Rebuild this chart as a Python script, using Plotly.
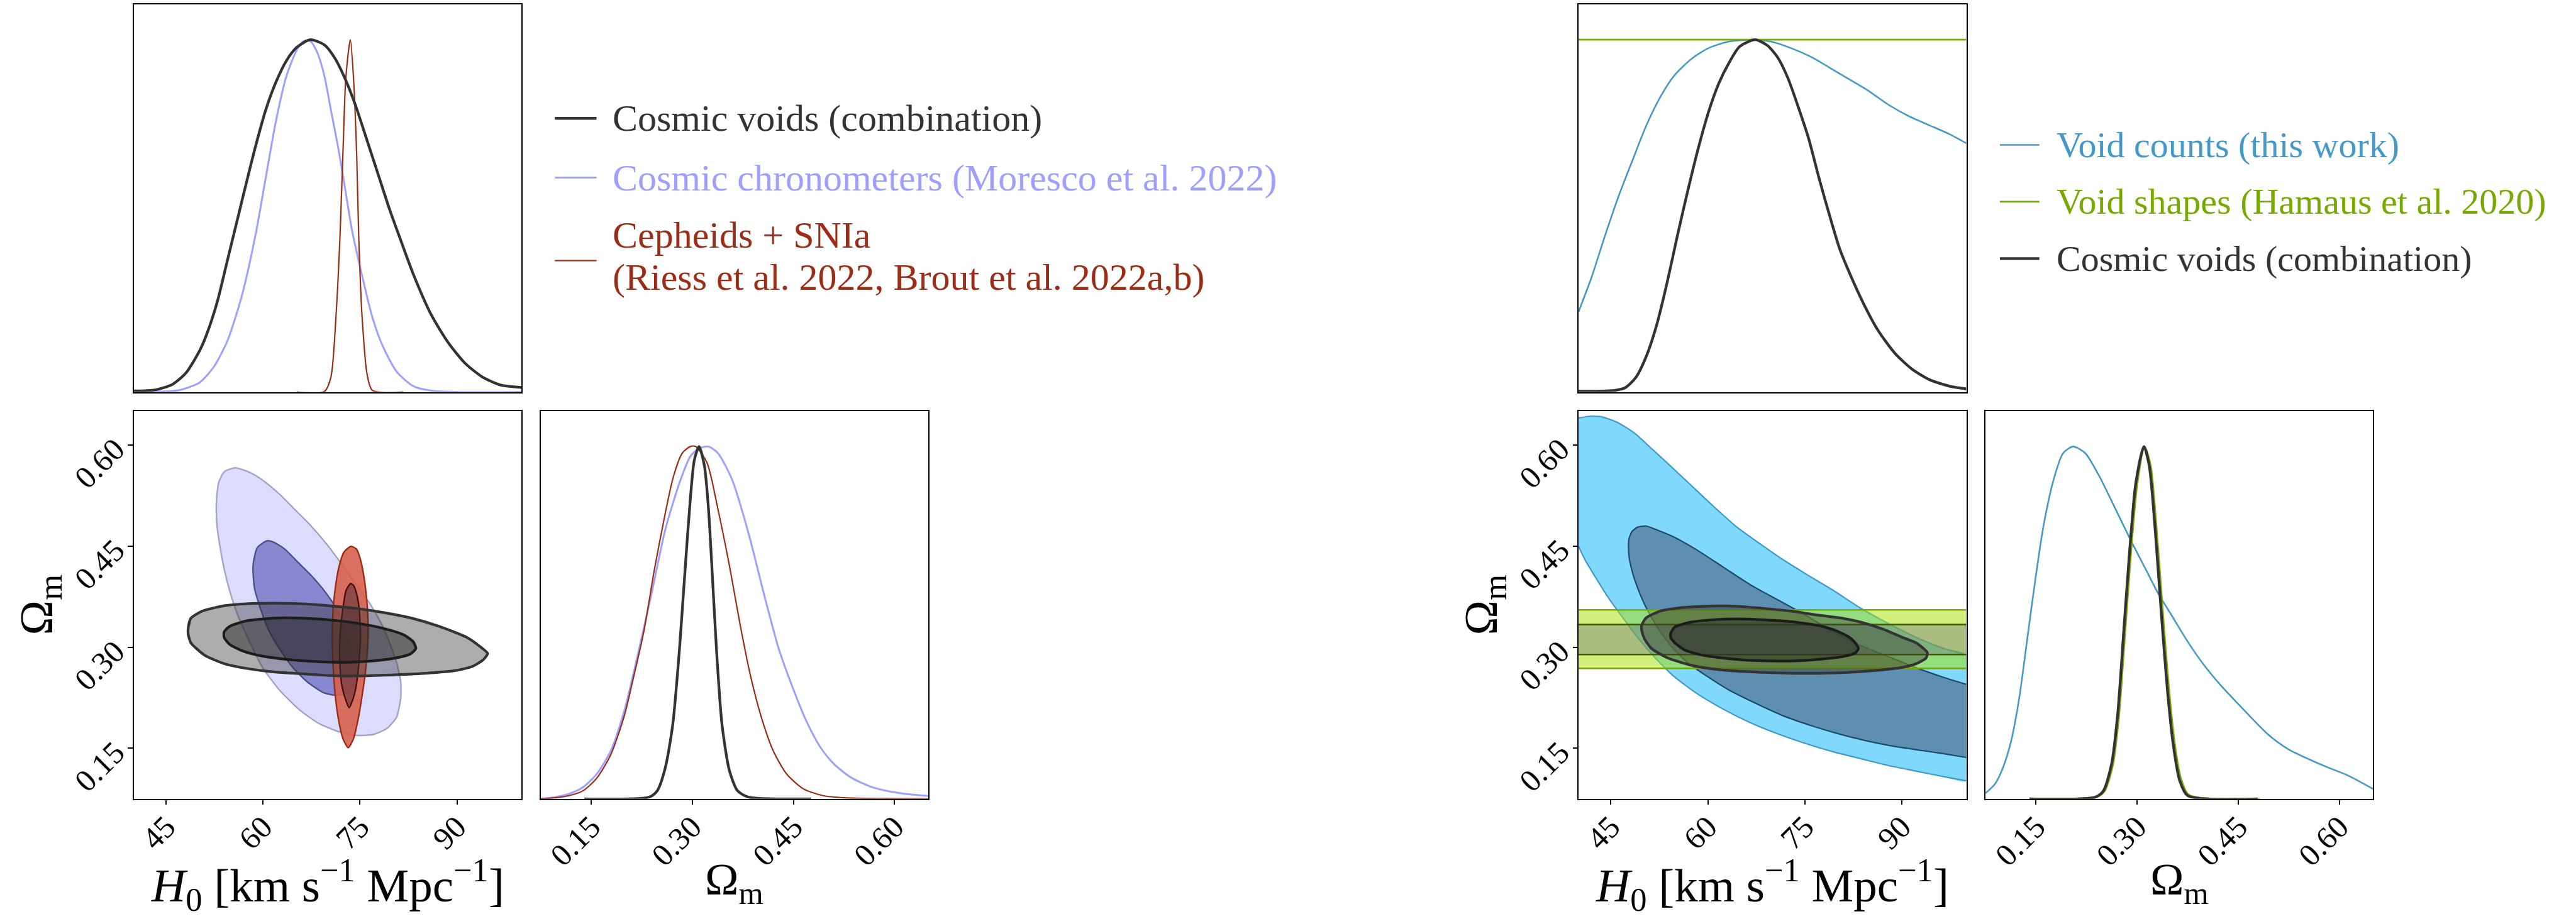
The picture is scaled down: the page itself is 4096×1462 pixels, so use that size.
import plotly.graph_objects as go

W, H = 4096, 1462
FONT = "Liberation Serif"

# ---------------- 1D marginals: left figure ----------------
h0_comb_L_x = [40, 43.3, 46.0, 48.1, 50.2, 51.3, 52.9, 54.5, 56.1, 57.7, 58.8, 60.4, 62.0, 63.6, 65.2, 67.3,
               69.5, 71.1, 72.7, 74.3, 75.9, 78.0, 79.6, 81.2, 83.3, 86.0, 88.7, 91.4, 94.0, 96.7, 100]
h0_comb_L_p = [0.003, 0.006, 0.022, 0.055, 0.118, 0.165, 0.255, 0.375, 0.495, 0.615, 0.695, 0.800, 0.880, 0.940,
               0.978, 1.0, 0.985, 0.948, 0.889, 0.814, 0.725, 0.607, 0.517, 0.436, 0.332, 0.220, 0.139, 0.079,
               0.042, 0.020, 0.013]
h0_cc_x = [40, 44, 47.0, 50.2, 52.4, 54.5, 56.7, 58.8, 60.4, 62.0, 63.6, 65.2, 66.3, 67.3, 68.4, 69.5, 70.5,
           71.6, 72.7, 73.7, 75.3, 76.9, 78.5, 80.7, 83.3, 86.0, 90, 100]
h0_cc_p = [0, 0.001, 0.005, 0.027, 0.072, 0.146, 0.272, 0.443, 0.607, 0.770, 0.896, 0.970, 0.996, 0.996, 0.963,
           0.896, 0.800, 0.696, 0.577, 0.465, 0.332, 0.213, 0.131, 0.057, 0.016, 0.004, 0.0, 0.0]
h0_ceph_x = [65.2, 69.5, 70.5, 71.3, 71.9, 72.4, 72.8, 73.5, 74.0, 74.5, 74.8, 75.3, 76.1, 76.9, 81.7]
h0_ceph_p = [0, 0.0015, 0.042, 0.22, 0.44, 0.70, 0.89, 1.0, 0.89, 0.666, 0.443, 0.22, 0.05, 0.005, 0]

om_comb_L_x = [0.1397, 0.236, 0.248, 0.260, 0.271, 0.281, 0.289, 0.297, 0.303, 0.310, 0.318, 0.324, 0.330,
               0.336, 0.344, 0.355, 0.367, 0.383, 0.476]
om_comb_L_p = [0, 0.005, 0.023, 0.089, 0.211, 0.427, 0.643, 0.850, 0.962, 1.0, 0.944, 0.822, 0.624, 0.418,
               0.211, 0.080, 0.023, 0.005, 0]
om_cc_x = [0.075, 0.097, 0.117, 0.138, 0.158, 0.179, 0.199, 0.219, 0.240, 0.260, 0.281, 0.297, 0.310, 0.324,
           0.338, 0.359, 0.383, 0.408, 0.428, 0.449, 0.469, 0.490, 0.510, 0.535, 0.567, 0.608, 0.650]
om_cc_p = [0, 0.005, 0.014, 0.033, 0.070, 0.136, 0.249, 0.408, 0.587, 0.765, 0.897, 0.972, 0.995, 1.0, 0.981,
           0.906, 0.756, 0.568, 0.427, 0.315, 0.221, 0.146, 0.099, 0.061, 0.033, 0.016, 0.008]
om_ceph_x = [0.075, 0.097, 0.117, 0.138, 0.158, 0.179, 0.199, 0.211, 0.228, 0.244, 0.260, 0.272, 0.285, 0.297,
             0.305, 0.322, 0.338, 0.355, 0.371, 0.387, 0.404, 0.420, 0.440, 0.465, 0.494, 0.526, 0.650]
om_ceph_p = [0, 0.003, 0.009, 0.023, 0.058, 0.125, 0.235, 0.330, 0.474, 0.653, 0.812, 0.915, 0.981, 1.0, 1.0,
             0.953, 0.822, 0.662, 0.493, 0.343, 0.221, 0.136, 0.070, 0.028, 0.009, 0.003, 0]

# ---------------- 1D marginals: right figure ----------------
h0_vc_x = [40, 42.0, 44.1, 46.2, 48.4, 50.5, 52.7, 54.8, 57.5, 60.1, 63.3, 67.1, 69.7, 72.9, 76.1, 79.9, 84.7,
           87.9, 91.1, 94.3, 97.5, 100]
h0_vc_p = [0.228, 0.325, 0.444, 0.556, 0.660, 0.757, 0.839, 0.898, 0.946, 0.976, 0.995, 1.0, 0.995, 0.976,
           0.950, 0.909, 0.857, 0.816, 0.783, 0.757, 0.731, 0.706]
h0_vs_x = [40, 100]
h0_vs_p = [1.0, 1.0]
h0_comb_R_x = [40, 45.7, 47.3, 48.9, 50.5, 52.1, 53.7, 55.3, 56.9, 58.5, 60.1, 61.7, 63.3, 64.9, 67.3, 69.2,
               70.8, 72.4, 74.0, 75.6, 77.2, 78.8, 80.4, 82.0, 84.1, 86.3, 89.0, 91.6, 94.3, 97.5, 100]
h0_comb_R_p = [0.002, 0.005, 0.013, 0.042, 0.102, 0.191, 0.310, 0.444, 0.571, 0.690, 0.794, 0.876, 0.935,
               0.980, 1.0, 0.984, 0.950, 0.891, 0.809, 0.720, 0.608, 0.504, 0.407, 0.335, 0.251, 0.176, 0.109,
               0.065, 0.035, 0.016, 0.009]

om_vc_x = [0.075, 0.089, 0.101, 0.113, 0.125, 0.137, 0.149, 0.161, 0.176, 0.190, 0.205, 0.223, 0.244, 0.268,
           0.292, 0.315, 0.330, 0.351, 0.375, 0.399, 0.423, 0.446, 0.494, 0.524, 0.554, 0.583, 0.613, 0.650]
om_vc_p = [0.016, 0.042, 0.089, 0.164, 0.286, 0.455, 0.624, 0.775, 0.906, 0.981, 1.0, 0.981, 0.915, 0.822,
           0.728, 0.643, 0.587, 0.521, 0.446, 0.380, 0.324, 0.277, 0.183, 0.141, 0.113, 0.089, 0.066, 0.028]
om_vs_x = [0.142, 0.240, 0.252, 0.264, 0.273, 0.282, 0.291, 0.300, 0.311, 0.320, 0.329, 0.338, 0.347, 0.356,
           0.365, 0.377, 0.482]
om_vs_p = [0, 0.005, 0.022, 0.095, 0.232, 0.465, 0.700, 0.890, 1.0, 0.948, 0.765, 0.535, 0.318, 0.155, 0.058,
           0.011, 0]
om_comb_R_x = [0.140, 0.238, 0.250, 0.262, 0.271, 0.280, 0.289, 0.298, 0.310, 0.318, 0.327, 0.336, 0.345,
               0.354, 0.363, 0.375, 0.479]
om_comb_R_p = [0, 0.005, 0.023, 0.099, 0.239, 0.474, 0.709, 0.897, 1.0, 0.944, 0.756, 0.521, 0.305, 0.146,
               0.052, 0.009, 0]

# ---------------- 2D contours: left figure (H0, Omega_m) ----------------
cc_outer_h0 = [55.67, 53.97, 53.11, 52.77, 52.90, 53.33, 53.97, 54.82, 56.10, 57.81, 59.95, 62.51, 65.50, 68.48,
               71.47, 74.46, 77.03, 79.16, 80.65, 81.30, 81.30, 80.65, 79.59, 78.31, 76.60, 74.46, 72.33, 69.77,
               67.20, 65.07, 62.51, 59.95, 57.81, 55.67]
cc_outer_om = [0.5661, 0.5600, 0.5436, 0.5109, 0.4781, 0.4495, 0.4168, 0.3840, 0.3472, 0.3104, 0.2695, 0.2367,
               0.2081, 0.1876, 0.1753, 0.1692, 0.1704, 0.1794, 0.1958, 0.2244, 0.2490, 0.2776, 0.3063, 0.3349,
               0.3636, 0.3922, 0.4209, 0.4536, 0.4822, 0.5027, 0.5272, 0.5477, 0.5600, 0.5661]
cc_inner_h0 = [60.59, 59.09, 58.45, 58.66, 59.52, 60.80, 62.51, 64.64, 66.78, 69.34, 71.47, 73.18, 74.04, 74.25,
               73.61, 72.75, 71.47, 69.77, 67.63, 65.50, 63.36, 61.65, 60.59]
cc_inner_om = [0.4577, 0.4475, 0.4209, 0.3881, 0.3595, 0.3267, 0.2981, 0.2695, 0.2490, 0.2326, 0.2285, 0.2326,
               0.2449, 0.2654, 0.2981, 0.3267, 0.3554, 0.3799, 0.4045, 0.4249, 0.4454, 0.4557, 0.4577]
ceph_outer_h0 = [73.61, 72.54, 71.69, 71.13, 70.83, 70.70, 70.83, 71.13, 71.69, 72.41, 73.18, 73.95, 74.68,
                 75.40, 75.96, 76.26, 76.17, 75.74, 75.10, 74.46, 73.61]
ceph_outer_om = [0.4495, 0.4413, 0.4168, 0.3840, 0.3554, 0.3145, 0.2735, 0.2326, 0.1917, 0.1631, 0.1508, 0.1631,
                 0.1917, 0.2326, 0.2735, 0.3145, 0.3554, 0.3963, 0.4290, 0.4454, 0.4495]
ceph_inner_h0 = [73.52, 72.84, 72.33, 71.90, 71.90, 72.24, 72.84, 73.31, 73.82, 74.38, 74.80, 75.06, 74.89, 74.46,
                 73.95, 73.52]
ceph_inner_om = [0.3942, 0.3840, 0.3554, 0.3145, 0.2735, 0.2408, 0.2204, 0.2101, 0.2204, 0.2408, 0.2735, 0.3145,
                 0.3554, 0.3799, 0.3922, 0.3942]
combL_outer_h0 = [48.42, 48.84, 50.55, 53.97, 57.38, 61.65, 65.92, 70.19, 74.46, 78.73, 83.00, 87.27, 91.54,
                  93.68, 94.75, 94.11, 92.40, 89.83, 85.14, 78.73, 74.46, 70.19, 65.92, 61.65, 57.38, 53.97, 50.98,
                  48.84, 48.42, 48.42]
combL_outer_om = [0.3288, 0.3431, 0.3533, 0.3615, 0.3644, 0.3652, 0.3644, 0.3615, 0.3574, 0.3513, 0.3431, 0.3308,
                  0.3145, 0.3001, 0.2907, 0.2817, 0.2715, 0.2654, 0.2613, 0.2584, 0.2572, 0.2580, 0.2605, 0.2633,
                  0.2686, 0.2756, 0.2879, 0.3063, 0.3186, 0.3288]
combL_inner_h0 = [53.97, 54.82, 57.38, 61.65, 65.92, 70.19, 74.46, 78.73, 81.72, 83.22, 83.64, 82.79, 80.44,
                  77.03, 72.76, 68.48, 63.79, 59.95, 56.96, 54.82, 53.97, 53.97]
combL_inner_om = [0.3226, 0.3308, 0.3390, 0.3431, 0.3431, 0.3406, 0.3357, 0.3276, 0.3185, 0.3083, 0.2981, 0.2899,
                  0.2838, 0.2797, 0.2776, 0.2784, 0.2817, 0.2866, 0.2940, 0.3042, 0.3145, 0.3226]

# ---------------- 2D contours: right figure ----------------
vc_outer_top_h0 = [40.00, 41.67, 43.59, 46.15, 48.71, 51.28, 53.84, 57.26, 60.67, 64.51, 68.36, 71.77, 75.19,
                   79.46, 83.73, 88.00, 92.27, 96.54, 100.0]
vc_outer_top_om = [0.6398, 0.6426, 0.6418, 0.6328, 0.6173, 0.5948, 0.5723, 0.5416, 0.5109, 0.4781, 0.4515,
                   0.4290, 0.4086, 0.3840, 0.3574, 0.3349, 0.3145, 0.2981, 0.2887]
vc_outer_bot_h0 = [40.00, 41.03, 42.31, 44.45, 46.58, 49.14, 51.70, 54.69, 58.11, 62.38, 66.65, 70.92, 75.19,
                   79.46, 83.73, 88.00, 92.27, 96.54, 100.0]
vc_outer_bot_om = [0.4495, 0.4290, 0.4086, 0.3758, 0.3472, 0.3145, 0.2858, 0.2572, 0.2326, 0.2081, 0.1876,
                   0.1712, 0.1569, 0.1446, 0.1344, 0.1242, 0.1160, 0.1078, 0.1017]
vc_inner_h0 = [100.0, 96.54, 92.27, 88.00, 83.73, 79.46, 75.19, 70.92, 66.65, 62.38, 58.11, 54.69, 52.13, 50.42,
               49.14, 48.29, 47.78, 47.78, 48.29, 49.14, 50.42, 52.13, 54.26, 56.83, 59.82, 63.23, 67.50, 71.77,
               76.04, 80.31, 84.58, 88.85, 93.12, 96.54, 100.0]
vc_inner_om = [0.2449, 0.2551, 0.2694, 0.2858, 0.3022, 0.3226, 0.3472, 0.3697, 0.3922, 0.4188, 0.4454, 0.4638,
               0.4740, 0.4798, 0.4781, 0.4720, 0.4597, 0.4372, 0.4127, 0.3881, 0.3595, 0.3308, 0.3022, 0.2776,
               0.2572, 0.2367, 0.2163, 0.1978, 0.1835, 0.1712, 0.1610, 0.1528, 0.1467, 0.1418, 0.1364]
vs_band_outer = [0.2686, 0.3553]
vs_band_inner = [0.2891, 0.3337]
combR_outer_h0 = [49.78, 50.42, 52.56, 55.97, 60.67, 64.51, 68.78, 73.05, 77.32, 80.74, 83.73, 87.14, 90.13,
                  92.27, 93.98, 93.76, 92.27, 89.71, 85.86, 81.59, 77.32, 73.05, 68.78, 64.51, 60.67, 57.26, 53.84,
                  51.28, 50.21, 49.78, 49.78]
combR_outer_om = [0.3329, 0.3431, 0.3533, 0.3587, 0.3611, 0.3607, 0.3574, 0.3533, 0.3472, 0.3431, 0.3370, 0.3267,
                  0.3145, 0.3063, 0.2920, 0.2838, 0.2756, 0.2694, 0.2654, 0.2625, 0.2613, 0.2613, 0.2625, 0.2645,
                  0.2678, 0.2736, 0.2838, 0.2981, 0.3124, 0.3247, 0.3329]
combR_inner_h0 = [54.26, 54.91, 57.26, 60.67, 64.51, 68.78, 73.05, 77.32, 79.46, 81.59, 82.66, 83.30, 82.88,
                  81.17, 77.75, 73.48, 69.21, 65.79, 62.38, 58.96, 56.40, 54.91, 54.26, 54.26]
combR_inner_om = [0.3206, 0.3300, 0.3370, 0.3406, 0.3419, 0.3406, 0.3378, 0.3317, 0.3259, 0.3165, 0.3083, 0.2981,
                  0.2919, 0.2866, 0.2825, 0.2797, 0.2797, 0.2809, 0.2838, 0.2887, 0.2960, 0.3063, 0.3145, 0.3206]

# ---------------- axes / labels ----------------
h0_range = [40, 100]
om_range = [0.075, 0.65]
p_range = [0, 1.1]
h0_ticks = [45, 60, 75, 90]
h0_ticklabels = ["45", "60", "75", "90"]
om_ticks = [0.15, 0.30, 0.45, 0.60]
om_ticklabels = ["0.15", "0.30", "0.45", "0.60"]

legend_L_labels = ["Cosmic voids (combination)", "Cosmic chronometers (Moresco et al. 2022)",
                   "Cepheids + SNIa", "(Riess et al. 2022, Brout et al. 2022a,b)"]
legend_R_labels = ["Void counts (this work)", "Void shapes (Hamaus et al. 2020)", "Cosmic voids (combination)"]

C_BLACK = "#333333"
C_CC = "#9f9fff"
C_CEPH = "#9b2d17"
C_VC = "#4499c9"
C_VS = "#77aa00"


def px_x(p):
    return p / W


def px_y(p):
    return 1 - p / H


colA_L = [px_x(212.8), px_x(829.3)]
colB_L = [px_x(859.6), px_x(1476.1)]
colA_R = [px_x(2510.0), px_x(3126.5)]
colB_R = [px_x(3157.1), px_x(3773.4)]
row1 = [px_y(623.6), px_y(7.1)]
row2 = [px_y(1270.8), px_y(654.3)]

fig = go.Figure()


def line(ax, x, y, color, width):
    fig.add_trace(go.Scatter(x=x, y=y, mode="lines", xaxis="x" + ax, yaxis="y" + ax,
                             line=dict(color=color, width=width, shape="spline", smoothing=0.7),
                             hoverinfo="skip", showlegend=False))


def poly(ax, x, y, fill, lcolor=None, lwidth=0):
    fig.add_trace(go.Scatter(x=x, y=y, mode="lines", xaxis="x" + ax, yaxis="y" + ax, fill="toself",
                             fillcolor=fill,
                             line=dict(color=lcolor or "rgba(0,0,0,0)", width=lwidth, shape="spline",
                                       smoothing=0.6),
                             hoverinfo="skip", showlegend=False))


def open_line(ax, x, y, color, width):
    fig.add_trace(go.Scatter(x=x, y=y, mode="lines", xaxis="x" + ax, yaxis="y" + ax,
                             line=dict(color=color, width=width, shape="spline", smoothing=0.6),
                             hoverinfo="skip", showlegend=False))


# ---- left figure ----
line("1", h0_cc_x, h0_cc_p, C_CC, 3.0)
line("1", h0_ceph_x, h0_ceph_p, C_CEPH, 2.2)
line("1", h0_comb_L_x, h0_comb_L_p, C_BLACK, 4.3)

poly("2", cc_outer_h0, cc_outer_om, "#dcdcfd", "#a3a3c6", 2.4)
poly("2", cc_inner_h0, cc_inner_om, "#8987d0", "#4f4f8e", 2.4)
poly("2", ceph_outer_h0, ceph_outer_om, "rgba(214,96,78,0.9)", "#9b2d17", 2.4)
poly("2", ceph_inner_h0, ceph_inner_om, "rgba(100,50,60,0.6)", "#4a1008", 2.4)
poly("2", combL_outer_h0, combL_outer_om, "rgba(51,51,51,0.4)", "#333333", 4.2)
poly("2", combL_inner_h0, combL_inner_om, "rgba(40,40,40,0.5)", "#1c1c1c", 4.2)

line("3", om_cc_x, om_cc_p, C_CC, 3.0)
line("3", om_ceph_x, om_ceph_p, C_CEPH, 2.2)
line("3", om_comb_L_x, om_comb_L_p, C_BLACK, 4.3)

# ---- right figure ----
line("4", h0_vc_x, h0_vc_p, C_VC, 2.6)
fig.add_trace(go.Scatter(x=h0_vs_x, y=h0_vs_p, mode="lines", xaxis="x4", yaxis="y4",
                         line=dict(color=C_VS, width=2.6), hoverinfo="skip", showlegend=False))
line("4", h0_comb_R_x, h0_comb_R_p, C_BLACK, 4.3)

vc_fill_x = vc_outer_top_h0 + vc_outer_bot_h0[::-1]
vc_fill_y = vc_outer_top_om + vc_outer_bot_om[::-1]
poly("5", vc_fill_x, vc_fill_y, "#80d8fc")
open_line("5", vc_outer_top_h0, vc_outer_top_om, "#3f9ac8", 2.2)
open_line("5", vc_outer_bot_h0, vc_outer_bot_om, "#3f9ac8", 2.2)
poly("5", vc_inner_h0, vc_inner_om, "#5f8fb0")
open_line("5", vc_inner_h0, vc_inner_om, "#1e4b6b", 2.2)

x0, x1 = h0_range
for band, fc, lc in [(vs_band_outer, "rgba(168,225,0,0.5)", C_VS),
                     (vs_band_inner, "rgba(100,105,125,0.38)", "#3e5a00")]:
    lo, hi = band
    fig.add_trace(go.Scatter(x=[x0, x1, x1, x0, x0], y=[lo, lo, hi, hi, lo], mode="lines", xaxis="x5",
                             yaxis="y5", fill="toself", fillcolor=fc, line=dict(width=0, color="rgba(0,0,0,0)"),
                             hoverinfo="skip", showlegend=False))
    fig.add_trace(go.Scatter(x=[x0, x1, None, x0, x1], y=[lo, lo, None, hi, hi], mode="lines", xaxis="x5",
                             yaxis="y5", line=dict(width=2.4, color=lc), hoverinfo="skip", showlegend=False))

poly("5", combR_outer_h0, combR_outer_om, "rgba(51,51,51,0.4)", "#333333", 4.2)
poly("5", combR_inner_h0, combR_inner_om, "rgba(40,40,40,0.5)", "#1c1c1c", 4.2)

line("6", om_vc_x, om_vc_p, C_VC, 2.6)
line("6", om_vs_x, om_vs_p, C_VS, 2.6)
line("6", om_comb_R_x, om_comb_R_p, C_BLACK, 4.3)

# ---------------- axes ----------------
TICKFONT = dict(family=FONT, size=50, color="black")


def ax(domain, anchor, rng, tickvals=None, ticktext=None, standoff=0):
    d = dict(domain=domain, anchor=anchor, range=rng, showgrid=False, zeroline=False, showline=True,
             mirror=True, linecolor="black", linewidth=1.7, fixedrange=True)
    if tickvals is not None:
        d.update(tickmode="array", tickvals=tickvals, ticktext=ticktext, ticks="outside", ticklen=7.5,
                 tickwidth=1.6, tickcolor="black", tickangle=-45, tickfont=TICKFONT, showticklabels=True,
                 ticklabelstandoff=standoff)
    else:
        d.update(ticks="", showticklabels=False)
    return d


XSO = -14
layout = dict(
    width=W, height=H, autosize=False, margin=dict(l=0, r=0, t=0, b=0, pad=0),
    paper_bgcolor="white", plot_bgcolor="white", showlegend=False,
    xaxis=ax(colA_L, "y", h0_range), yaxis=ax(row1, "x", p_range),
    xaxis2=ax(colA_L, "y2", h0_range, h0_ticks, h0_ticklabels, XSO),
    yaxis2=ax(row2, "x2", om_range, om_ticks, om_ticklabels, 10),
    xaxis3=ax(colB_L, "y3", om_range, om_ticks, om_ticklabels, XSO), yaxis3=ax(row2, "x3", p_range),
    xaxis4=ax(colA_R, "y4", h0_range), yaxis4=ax(row1, "x4", p_range),
    xaxis5=ax(colA_R, "y5", h0_range, h0_ticks, h0_ticklabels, XSO),
    yaxis5=ax(row2, "x5", om_range, om_ticks, om_ticklabels, 10),
    xaxis6=ax(colB_R, "y6", om_range, om_ticks, om_ticklabels, XSO), yaxis6=ax(row2, "x6", p_range),
)
fig.update_layout(**layout)

# ---------------- axis titles ----------------
H0_TITLE = "<i>H</i><sub>0</sub> [km s<sup>\u22121</sup> Mpc<sup>\u22121</sup>]"
OM_TITLE = "\u03a9<sub>m</sub>"
TFONT = dict(family=FONT, size=75, color="black")
ann = []
for cx in [(212.8 + 829.3) / 2, (2510.0 + 3126.5) / 2]:
    ann.append(dict(x=px_x(cx), y=px_y(1407), xref="paper", yref="paper", text=H0_TITLE, showarrow=False,
                    xanchor="center", yanchor="middle", font=TFONT))
for cx in [(859.6 + 1476.1) / 2, (3157.1 + 3773.4) / 2]:
    ann.append(dict(x=px_x(cx), y=px_y(1404), xref="paper", yref="paper", text=OM_TITLE, showarrow=False,
                    xanchor="center", yanchor="middle", font=dict(family=FONT, size=72, color="black")))
for cx in [62, 2359]:
    ann.append(dict(x=px_x(cx), y=px_y(962.5), xref="paper", yref="paper", text=OM_TITLE, showarrow=False,
                    xanchor="center", yanchor="middle", textangle=-90, font=TFONT))

# ---------------- legends ----------------
shapes = []
LFS = 60
legL = [(C_BLACK, 4.5, 188.2), (C_CC, 3.0, 282.6), (C_CEPH, 2.2, 414.6)]
for c, w, yy in legL:
    shapes.append(dict(type="line", xref="paper", yref="paper", x0=px_x(882.3), x1=px_x(948.5),
                       y0=px_y(yy), y1=px_y(yy), line=dict(color=c, width=w)))
legL_text = [(legend_L_labels[0], C_BLACK, 188.2), (legend_L_labels[1], C_CC, 282.6),
             (legend_L_labels[2], C_CEPH, 374.0), (legend_L_labels[3], C_CEPH, 441.4)]
for t, c, yy in legL_text:
    ann.append(dict(x=px_x(972), y=px_y(yy), xref="paper", yref="paper", text=t, showarrow=False,
                    xanchor="left", yanchor="middle", font=dict(family=FONT, size=LFS, color=c)))

legR = [(C_VC, 2.6, 230.5), (C_VS, 2.6, 320.9), (C_BLACK, 4.3, 411.4)]
for (c, w, yy), t in zip(legR, legend_R_labels):
    shapes.append(dict(type="line", xref="paper", yref="paper", x0=px_x(3180.0), x1=px_x(3242.7),
                       y0=px_y(yy), y1=px_y(yy), line=dict(color=c, width=w)))
    ann.append(dict(x=px_x(3268), y=px_y(yy), xref="paper", yref="paper", text=t, showarrow=False,
                    xanchor="left", yanchor="middle", font=dict(family=FONT, size=58, color=c)))

fig.update_layout(annotations=ann, shapes=shapes)
fig.write_html("out.html", config={"displayModeBar": False})
